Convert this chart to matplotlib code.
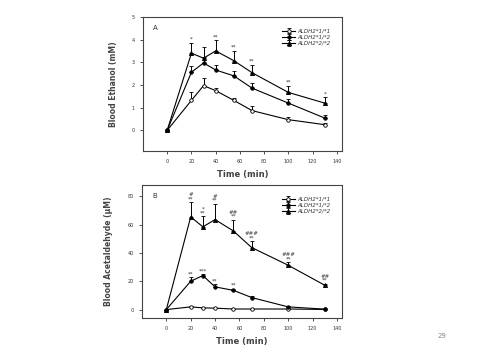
import numpy as np
import matplotlib.pyplot as plt

t = [0, 20, 30, 40, 55, 70, 100, 130]
labels = ['ALDH2*1/*1', 'ALDH2*1/*2', 'ALDH2*2/*2']

# Panel A : blood ethanol (mM)
eth_11 = [0, 1.32, 1.97, 1.75, 1.32, 0.87, 0.47, 0.25]
eth_11_err = [0, 0.38, 0.33, 0.12, 0.1, 0.2, 0.1, 0.06]
eth_12 = [0, 2.56, 2.97, 2.66, 2.4, 1.86, 1.2, 0.54]
eth_12_err = [0, 0.27, 0.25, 0.22, 0.23, 0.22, 0.17, 0.15]
eth_22 = [0, 3.40, 3.18, 3.50, 3.07, 2.54, 1.67, 1.2]
eth_22_err = [0, 0.47, 0.48, 0.46, 0.42, 0.34, 0.29, 0.25]
eth_sig = ['', '*', '', '**', '**', '**', '**', '*']

# Panel B : blood acetaldehyde (uM)
ald_11 = [0, 1.9, 1.2, 1.0, 0.4, 0.4, 0.4, 0.1]
ald_11_err = [0, 0.3, 0.2, 0.2, 0.1, 0.1, 0.1, 0.0]
ald_12 = [0, 20.0, 24.0, 16.0, 13.6, 8.5, 1.9, 0.3]
ald_12_err = [0, 3.0, 1.2, 1.9, 1.2, 0.8, 0.4, 0.1]
ald_22 = [0, 65.4, 58.4, 63.5, 55.5, 43.8, 31.3, 17.2]
ald_22_err = [0, 10.6, 7.5, 11.3, 8.0, 4.7, 2.3, 1.2]
ald_22_sig = ['', '#\n**', '*\n**', '#\n**', '##\n**', '###\n**', '###\n**', '##\n**']
ald_12_sig = ['', '**', '***', '**', '**', '', '', '']

gray = '#333333'
plt.rcParams['font.family'] = 'DejaVu Sans'

fig = plt.figure(figsize=(4.78, 3.59), dpi=100)
axA = fig.add_axes([0.299, 0.580, 0.416, 0.373])
axB = fig.add_axes([0.297, 0.114, 0.418, 0.371])

styles = [dict(marker='o', mfc='white', ms=2.5), dict(marker='o', mfc='black', ms=2.5),
          dict(marker='^', mfc='black', ms=3)]


def panel(ax, series, errs, ylim, yticks, letter, ylabel):
    for (y, e, st, lab) in zip(series, errs, styles, labels):
        ax.errorbar(t, y, yerr=[np.zeros(len(e)), e], color='black', lw=0.8,
                    mec='black', mew=0.6, elinewidth=0.7, capsize=1.5, capthick=0.7,
                    label=lab, **st)
    ax.set_xlim(-20, 144)
    ax.set_ylim(*ylim)
    ax.set_xticks(np.arange(0, 141, 20))
    ax.set_yticks(yticks)
    ax.tick_params(labelsize=3.5, length=2, width=0.6, colors=gray, pad=4)
    for s in ax.spines.values():
        s.set_linewidth(0.8)
        s.set_color('#444444')
    ax.text(0.05, 0.9, letter, transform=ax.transAxes, fontsize=5, color=gray)
    ax.set_xlabel('Time (min)', fontsize=6, fontweight='bold', color='#444444', labelpad=4)
    ax.set_ylabel(ylabel, fontsize=5.5, fontweight='bold', color='#444444', labelpad=10)
    leg = ax.legend(loc='upper right', bbox_to_anchor=(0.97, 0.95), frameon=False, fontsize=4,
                    handlelength=2.5, labelspacing=0.2, handletextpad=0.4)
    for txt in leg.get_texts():
        txt.set_fontstyle('italic')
        txt.set_color(gray)


panel(axA, [eth_11, eth_12, eth_22], [eth_11_err, eth_12_err, eth_22_err],
      (-0.9, 5), range(0, 6), 'A', 'Blood Ethanol (mM)')
panel(axB, [ald_11, ald_12, ald_22], [ald_11_err, ald_12_err, ald_22_err],
      (-6, 88), range(0, 81, 20), 'B', 'Blood Acetaldehyde (\u00b5M)')

for x, y, e, s in zip(t, eth_22, eth_22_err, eth_sig):
    axA.text(x, y + e + 0.05, s, ha='center', va='bottom', fontsize=4, color=gray)
for x, y, e, s in zip(t, ald_22, ald_22_err, ald_22_sig):
    axB.text(x, y + e + 0.5, s, ha='center', va='bottom', fontsize=4, color=gray,
             linespacing=0.8)
for x, y, e, s in zip(t, ald_12, ald_12_err, ald_12_sig):
    axB.text(x, y + e + 0.5, s, ha='center', va='bottom', fontsize=4, color=gray)

fig.text(0.925, 0.058, '29', fontsize=5, color='#888888', ha='center')

fig.savefig('out.png', dpi=100)
